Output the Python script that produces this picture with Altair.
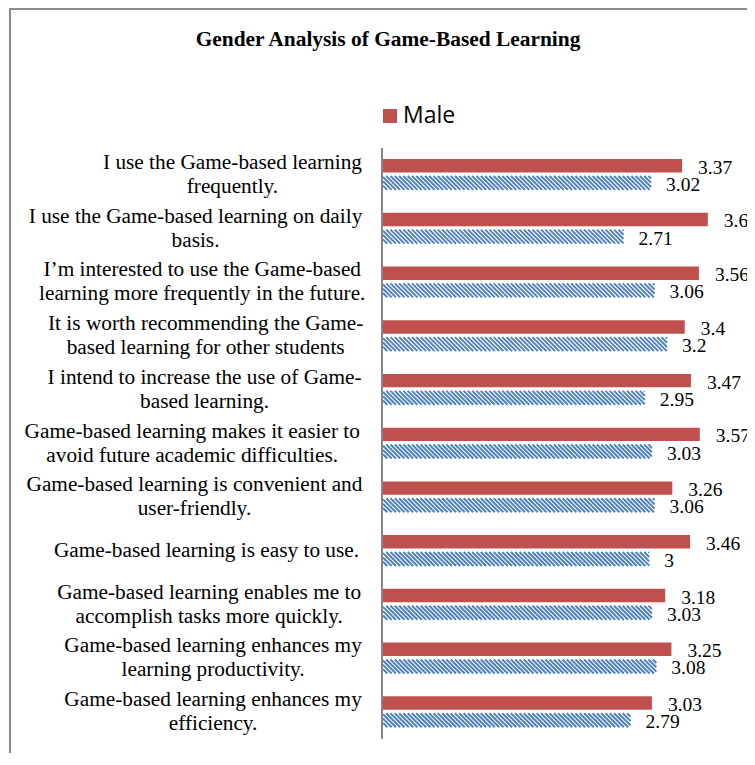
import altair as alt
import pandas as pd

title_text = "Gender Analysis of Game-Based Learning"
series = ["Male", "Female"]
labels = [
    "I use the Game-based learning\nfrequently.",
    "I use the Game-based learning on daily\nbasis.",
    "I\u2019m interested to use the Game-based\nlearning more frequently in the future.",
    "It is worth recommending the Game-\nbased learning for other students",
    "I intend to increase the use of Game-\nbased learning.",
    "Game-based learning makes it easier to\navoid future academic difficulties.",
    "Game-based learning is convenient and\nuser-friendly.",
    "Game-based learning is easy to use.",
    "Game-based learning enables me to\naccomplish tasks more quickly.",
    "Game-based learning enhances my\nlearning productivity.",
    "Game-based learning enhances my\nefficiency.",
]
male = [3.37, 3.66, 3.56, 3.4, 3.47, 3.57, 3.26, 3.46, 3.18, 3.25, 3.03]
female = [3.02, 2.71, 3.06, 3.2, 2.95, 3.03, 3.06, 3, 3.03, 3.08, 2.79]

df = pd.DataFrame({"idx": list(range(len(labels))), "label": labels,
                   "male": male, "female": female})
one = pd.DataFrame({"a": [0]})

RED = "#C0504D"
BLUE = "#4F81BD"
W, H = 355, 591
PX = W / 4.0
ROW = H / 11.0
DX = 14 / PX
STEP = 4.3 / PX
LFS = 21.3

xs = alt.Scale(domain=[0, 4], nice=False, zero=False)
ys = alt.Scale(domain=[0, 11], reverse=True, nice=False, zero=False)


def X(f):
    return alt.X(f, type="quantitative", scale=xs, axis=None)


def Y(f):
    return alt.Y(f, type="quantitative", scale=ys, axis=None)


base = alt.Chart(df).transform_calculate(
    m1="datum.idx + 0.205", m2="datum.idx + 0.455",
    mc="datum.idx + 0.367", fc="datum.idx + 0.687",
    mt="'' + datum.male", ft="'' + datum.female",
)

frame = alt.Chart(one).mark_rect(fill="white", stroke="#8a8a8a", strokeWidth=2).encode(
    x=alt.value(-373), y=alt.value(-139), x2=alt.value(2000), y2=alt.value(2000))

red = base.mark_rect(color=RED).encode(
    x=X("male"), x2=alt.datum(0), y=Y("m1"), y2="m2:Q")

hatch = base.transform_calculate(
    offs=f"sequence({-DX}, datum.female, {STEP})"
).transform_flatten(["offs"]).transform_calculate(
    hx1="max(datum.offs, 0)", hx2=f"min(datum.offs + {DX}, datum.female)"
).transform_filter("datum.hx2 > datum.hx1").transform_calculate(
    hy1=f"datum.idx + 0.52 + (datum.hx1 - datum.offs) / {DX} * 0.26",
    hy2=f"datum.idx + 0.52 + (datum.hx2 - datum.offs) / {DX} * 0.26",
).mark_rule(color=BLUE, strokeWidth=2, strokeCap="butt").encode(
    x=X("hx1"), x2="hx2:Q", y=Y("hy1"), y2="hy2:Q")

axis_line = alt.Chart(one).mark_rule(color="#868686", strokeWidth=2).encode(
    x=alt.value(-1), y=alt.value(0), y2=alt.value(H))

font = "Liberation Serif"
mlab = base.mark_text(font=font, fontSize=19.5, align="left", baseline="middle",
                      dx=16, color="black").encode(x=X("male"), y=Y("mc"), text="mt:N")
flab = base.mark_text(font=font, fontSize=19.5, align="left", baseline="middle",
                      dx=15, color="black").encode(x=X("female"), y=Y("fc"), text="ft:N")


def est(s):
    narrow = f"length(replace({s}, regexp('[^iljtfrI .,\u2019-]', 'g'), ''))"
    wide = f"length(replace({s}, regexp('[^mwMGW]', 'g'), ''))"
    return f"(0.47 * length({s}) - 0.19 * {narrow} + 0.31 * {wide}) * {LFS}"


cat = base.transform_calculate(
    nl="indexof(datum.label, '\\n')"
).transform_calculate(
    l1="datum.nl < 0 ? datum.label : substring(datum.label, 0, datum.nl)",
    l2="datum.nl < 0 ? '' : substring(datum.label, datum.nl + 1)",
    yc=f"datum.idx + 0.5 - (datum.nl < 0 ? 0 : 12 / {ROW})",
).transform_calculate(
    w1=est("datum.l1"), w2=est("datum.l2"),
).transform_calculate(
    lx=f"(-19 - max(datum.w1, datum.w2) / 2) / {PX}"
).mark_text(font=font, fontSize=LFS, lineHeight=24, lineBreak="\n", align="center",
            baseline="middle", color="black").encode(x=X("lx"), y=Y("yc"), text="label:N")

title = alt.Chart(one).mark_text(font=font, fontSize=21.4, fontWeight="bold",
                                 align="center", baseline="middle", color="black").encode(
    x=alt.value(5), y=alt.value(-108), text=alt.value(title_text))

leg_sq = alt.Chart(one).mark_square(color=RED, size=196, opacity=1).encode(
    x=alt.value(7), y=alt.value(-32))
leg_tx = alt.Chart(one).mark_text(font="Open Sans", fontSize=23, align="left",
                                  baseline="alphabetic", color="black").encode(
    x=alt.value(20), y=alt.value(-25), text=alt.value(series[0]))

chart = alt.layer(frame, axis_line, red, hatch, mlab, flab, cat, title, leg_sq, leg_tx).properties(
    width=W, height=H,
    autosize=alt.AutoSizeParams(type="none"),
    padding={"left": 375, "top": 140, "right": 9, "bottom": 14},
).configure_view(stroke=None)

chart.save("out.html", embed_options={"renderer": "svg", "actions": False})
